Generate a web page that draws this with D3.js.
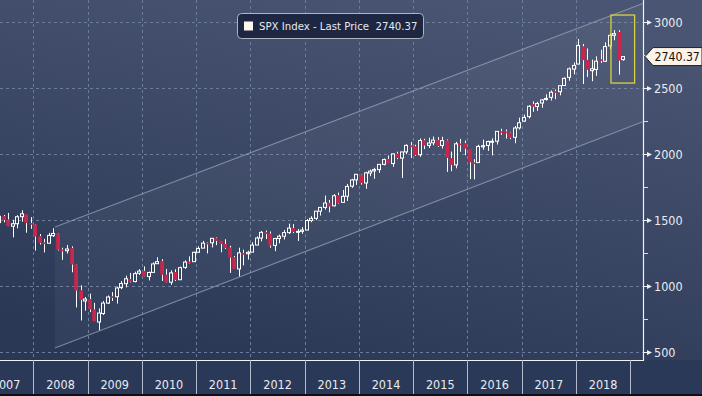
<!DOCTYPE html>
<html>
<head>
<meta charset="utf-8">
<script src="https://d3js.org/d3.v7.min.js"></script>
<style>
    body { margin: 0; background: #2b3958; }
    svg { display: block; }
    text { font-family: "DejaVu Sans Condensed", "Liberation Sans Narrow", "Arial Narrow", sans-serif; white-space: pre; }
</style>
</head>
<body>
<div id="chart"></div>
<script>
// monthly SPX bars, first bar is Apr 2007, last is Nov 2018 (partial)
var firstMonth = [2007, 3];

var opens = [
    1420.8, 1482.4, 1530.6, 1504.7, 1455.2, 1474.0, 1527.3, 1545.8, 1479.6,
    1468.0, 1378.6, 1330.5, 1326.4, 1383.4, 1399.6, 1276.7, 1269.4, 1287.8, 1164.2, 968.7, 888.6,
    903.0, 823.1, 729.6, 793.6, 872.7, 923.3, 920.8, 990.2, 1019.5, 1054.9, 1036.2, 1098.9,
    1116.6, 1073.9, 1105.4, 1171.2, 1188.6, 1087.3, 1031.1, 1107.5, 1049.7, 1143.5, 1185.7, 1186.6,
    1257.6, 1289.1, 1328.6, 1329.5, 1365.2, 1345.2, 1320.6, 1292.6, 1219.1, 1131.2, 1251.0, 1246.9,
    1258.9, 1312.5, 1365.9, 1408.5, 1397.9, 1309.9, 1362.3, 1379.3, 1406.5, 1440.9, 1412.2, 1416.2,
    1426.2, 1498.1, 1514.7, 1569.2, 1597.6, 1631.7, 1609.8, 1689.4, 1636.0, 1682.4, 1758.7, 1806.6,
    1845.9, 1782.7, 1857.7, 1874.0, 1884.4, 1923.9, 1962.3, 1929.8, 2004.1, 1971.4, 2018.2, 2065.8,
    2058.9, 1996.7, 2105.2, 2067.6, 2087.4, 2108.6, 2067.0, 2104.5, 1970.1, 1919.7, 2080.8, 2082.9,
    2038.2, 1936.9, 1937.1, 2056.6, 2067.2, 2093.9, 2099.3, 2173.1, 2171.3, 2164.3, 2128.7, 2200.2,
    2251.6, 2285.6, 2380.1, 2362.3, 2388.5, 2415.6, 2431.4, 2477.1, 2474.4, 2521.2, 2583.2, 2645.1,
    2683.7, 2816.5, 2715.2, 2633.5, 2643.0, 2718.7, 2705.0, 2821.2, 2901.6, 2926.3, 2717.6
];
var highs = [
    1498.0, 1535.6, 1540.6, 1555.9, 1503.9, 1538.7, 1576.1, 1545.8, 1523.6,
    1471.8, 1396.0, 1359.7, 1404.6, 1440.2, 1404.1, 1292.2, 1313.2, 1303.0, 1167.0, 1007.5, 918.9,
    943.9, 875.0, 833.0, 888.7, 930.2, 956.2, 996.7, 1039.5, 1080.2, 1101.4, 1111.1, 1130.4,
    1150.5, 1112.4, 1180.7, 1219.8, 1205.1, 1131.2, 1121.0, 1129.2, 1148.9, 1196.1, 1227.1, 1262.6,
    1302.7, 1344.1, 1332.3, 1364.6, 1370.6, 1345.2, 1356.5, 1307.4, 1229.3, 1292.7, 1277.6, 1269.4,
    1333.5, 1378.0, 1419.2, 1422.4, 1415.3, 1363.5, 1391.7, 1426.7, 1474.5, 1471.0, 1434.3, 1448.0,
    1509.9, 1530.9, 1570.3, 1597.6, 1687.2, 1654.2, 1698.8, 1709.7, 1729.9, 1775.2, 1813.6, 1849.4,
    1850.8, 1867.9, 1884.0, 1897.3, 1924.0, 1968.2, 1991.4, 2005.0, 2019.3, 2018.2, 2075.8, 2093.6,
    2072.4, 2119.6, 2117.5, 2125.9, 2134.7, 2129.9, 2132.8, 2112.7, 2020.9, 2094.3, 2116.5, 2104.3,
    2038.2, 1963.0, 2072.2, 2111.1, 2103.5, 2120.6, 2177.1, 2193.8, 2187.9, 2169.6, 2214.1, 2277.5,
    2301.0, 2371.5, 2401.0, 2398.2, 2418.7, 2453.8, 2484.0, 2490.9, 2519.4, 2583.0, 2657.7, 2695.0,
    2872.9, 2836.0, 2801.9, 2717.5, 2742.2, 2791.5, 2848.0, 2916.5, 2940.9, 2939.9, 2741.7
];
var lows = [
    1416.4, 1476.7, 1484.2, 1454.3, 1370.6, 1439.3, 1489.6, 1406.1, 1435.7,
    1270.1, 1316.8, 1257.0, 1324.4, 1373.7, 1272.0, 1200.4, 1248.6, 1106.4, 839.8, 741.0, 815.7,
    804.3, 734.5, 666.8, 783.3, 866.1, 888.9, 869.3, 978.5, 992.0, 1029.4, 1029.4, 1085.9,
    1071.6, 1044.5, 1105.4, 1170.7, 1040.8, 1028.3, 1010.9, 1039.7, 1049.7, 1131.9, 1173.0, 1186.6,
    1257.6, 1289.1, 1249.1, 1294.7, 1311.8, 1258.1, 1282.9, 1101.5, 1136.2, 1074.8, 1158.7, 1202.4,
    1258.9, 1312.5, 1340.0, 1357.4, 1292.0, 1266.7, 1325.4, 1354.7, 1396.6, 1403.3, 1343.4, 1398.1,
    1426.2, 1485.0, 1501.5, 1536.0, 1581.3, 1560.3, 1604.6, 1627.5, 1633.4, 1646.5, 1746.2, 1768.0,
    1770.5, 1737.9, 1834.4, 1814.4, 1859.8, 1916.0, 1930.7, 1904.8, 1964.0, 1820.7, 2001.0, 1972.6,
    1988.1, 1980.9, 2039.7, 2048.4, 2067.9, 2056.3, 2044.0, 1867.0, 1871.9, 1893.7, 2019.4, 1993.3,
    1812.3, 1810.1, 1937.1, 2033.8, 2025.9, 1991.7, 2074.0, 2147.6, 2119.1, 2114.7, 2083.8, 2187.4,
    2245.1, 2271.7, 2322.3, 2329.0, 2352.7, 2405.7, 2407.7, 2417.4, 2446.6, 2520.4, 2557.5, 2605.5,
    2682.4, 2532.7, 2585.9, 2553.8, 2594.6, 2692.0, 2699.0, 2796.3, 2864.1, 2603.5, 2708.9
];
var closes = [
    1482.4, 1530.6, 1503.4, 1455.3, 1474.0, 1526.8, 1549.4, 1481.1, 1468.4,
    1378.6, 1330.6, 1322.7, 1385.6, 1400.4, 1280.0, 1267.4, 1282.8, 1166.4, 968.8, 896.2, 903.3,
    825.9, 735.1, 797.9, 872.8, 919.1, 919.3, 987.5, 1020.6, 1057.1, 1036.2, 1095.6, 1115.1,
    1073.9, 1104.5, 1169.4, 1186.7, 1089.4, 1030.7, 1101.6, 1049.3, 1141.2, 1183.3, 1180.6, 1257.6,
    1286.1, 1327.2, 1325.8, 1363.6, 1345.2, 1320.6, 1292.3, 1218.9, 1131.4, 1253.3, 1247.0, 1257.6,
    1312.4, 1365.7, 1408.5, 1397.9, 1310.3, 1362.2, 1379.3, 1406.6, 1440.7, 1412.2, 1416.2, 1426.2,
    1498.1, 1514.7, 1569.2, 1597.6, 1630.7, 1606.3, 1685.7, 1633.0, 1681.6, 1756.5, 1805.8, 1848.4,
    1782.6, 1859.5, 1872.3, 1884.0, 1923.6, 1960.2, 1930.7, 2003.4, 1972.3, 2018.1, 2067.6, 2058.9,
    1995.0, 2104.5, 2067.9, 2085.5, 2107.4, 2063.1, 2103.8, 1972.2, 1920.0, 2079.4, 2080.4, 2043.9,
    1940.2, 1932.2, 2059.7, 2065.3, 2097.0, 2098.9, 2173.6, 2171.0, 2168.3, 2126.2, 2199.0, 2238.8,
    2278.9, 2363.6, 2362.7, 2384.2, 2411.8, 2423.4, 2470.3, 2471.7, 2519.4, 2575.3, 2647.6, 2673.6,
    2823.8, 2713.8, 2640.9, 2648.1, 2705.3, 2718.4, 2816.3, 2901.5, 2914.0, 2711.7, 2740.4
];

var yTicks = [500, 1000, 1500, 2000, 2500, 3000];
var yMinorTicks = [750, 1250, 1750, 2250, 2750];
var yearLabels = ["2007", "2008", "2009", "2010", "2011", "2012", "2013", "2014", "2015", "2016", "2017", "2018"];

// trend channel drawn on the chart
var channelDates = ["2008-05-26", "2019-03-26"];
var channelUpper = [1449, 3142];
var channelLower = [533, 2247];

// highlight box around the last bars
var boxDates = ["2018-08-24", "2019-01-30"];
var boxValues = [3055, 2540];

var legendText = "SPX Index - Last Price  2740.37";
var lastPrice = 2740.37;

var W = 702, H = 396;
var plotRight = 643, plotBottom = 360;

var parse = d3.timeParse("%Y-%m-%d");

var x = d3.scaleTime()
    .domain([new Date(2008, 0, 1), new Date(2019, 0, 1)])
    .range([33.3, 630.3]);
var y = d3.scaleLinear()
    .domain([500, 3000])
    .range([352.3, 22.3]);

var bars = [];
for (var i = 0; i < opens.length; i++) {
    bars.push({
        date: new Date(firstMonth[0], firstMonth[1] + i, 15),
        o: opens[i], h: highs[i], l: lows[i], c: closes[i]
    });
}

var svg = d3.select("#chart").append("svg")
    .attr("width", W)
    .attr("height", H);

var defs = svg.append("defs");
var grad = defs.append("linearGradient")
    .attr("id", "bg")
    .attr("x1", "0.7").attr("y1", "0")
    .attr("x2", "0.3").attr("y2", "1");
grad.append("stop").attr("offset", "0").attr("stop-color", "#4a5573");
grad.append("stop").attr("offset", "1").attr("stop-color", "#2a3856");

defs.append("clipPath").attr("id", "plotClip")
    .append("rect").attr("x", 0).attr("y", 0).attr("width", plotRight).attr("height", plotBottom);

// background
svg.append("rect").attr("width", W).attr("height", plotBottom).attr("fill", "url(#bg)");
svg.append("rect").attr("y", plotBottom).attr("width", W).attr("height", H - plotBottom).attr("fill", "#2b3958");
svg.append("rect").attr("y", H - 2).attr("width", W).attr("height", 2).attr("fill", "#0b0f18");

var plot = svg.append("g").attr("clip-path", "url(#plotClip)");

//grid
var yearStarts = d3.range(2008, 2019).map(function(yr) { return new Date(yr, 0, 1); });
plot.selectAll(".hgrid").data(yTicks).enter().append("line")
    .attr("x1", 0).attr("x2", plotRight)
    .attr("y1", function(d) { return Math.round(y(d)) + 0.5; })
    .attr("y2", function(d) { return Math.round(y(d)) + 0.5; })
    .attr("stroke", "#6a7c99").attr("stroke-dasharray", "3,3");
plot.selectAll(".vgrid").data(yearStarts).enter().append("line")
    .attr("x1", function(d) { return Math.round(x(d)) + 0.5; })
    .attr("x2", function(d) { return Math.round(x(d)) + 0.5; })
    .attr("y1", 0).attr("y2", plotBottom)
    .attr("stroke", "#6a7c99").attr("stroke-dasharray", "3,3");

//channel
var cd = channelDates.map(parse);
var channelPts = [
    [x(cd[0]), y(channelUpper[0])],
    [x(cd[1]), y(channelUpper[1])],
    [x(cd[1]), y(channelLower[1])],
    [x(cd[0]), y(channelLower[0])]
];
plot.append("polygon")
    .attr("points", channelPts.map(function(p) { return p.join(","); }).join(" "))
    .attr("fill", "#ffffff").attr("fill-opacity", 0.045);
plot.append("line")
    .attr("x1", channelPts[0][0]).attr("y1", channelPts[0][1])
    .attr("x2", channelPts[1][0]).attr("y2", channelPts[1][1])
    .attr("stroke", "#a3abbd").attr("stroke-opacity", 0.65).attr("stroke-width", 1.2);
plot.append("line")
    .attr("x1", channelPts[3][0]).attr("y1", channelPts[3][1])
    .attr("x2", channelPts[2][0]).attr("y2", channelPts[2][1])
    .attr("stroke", "#a3abbd").attr("stroke-opacity", 0.65).attr("stroke-width", 1.2);

//candles
var candle = plot.selectAll(".candle").data(bars).enter().append("g");
candle.each(function(d) {
    var g = d3.select(this);
    var cx = Math.round(x(d.date));
    var top = y(Math.max(d.o, d.c));
    var bot = y(Math.min(d.o, d.c));
    var up = d.c >= d.o;
    // wick above and below the body
    g.append("line").attr("x1", cx + 0.5).attr("x2", cx + 0.5)
        .attr("y1", y(d.h)).attr("y2", top).attr("stroke", "#ffffff");
    g.append("line").attr("x1", cx + 0.5).attr("x2", cx + 0.5)
        .attr("y1", bot).attr("y2", y(d.l)).attr("stroke", "#ffffff");
    if (up) {
        g.append("rect")
            .attr("x", cx - 1.5).attr("y", top)
            .attr("width", 3).attr("height", Math.max(bot - top, 1))
            .attr("fill", "none").attr("stroke", "#ffffff").attr("stroke-width", 1);
    } else {
        g.append("rect")
            .attr("x", cx - 1.8).attr("y", top)
            .attr("width", 3.8).attr("height", Math.max(bot - top, 1.5))
            .attr("fill", "#c8264b");
    }
});

//highlight box
var bd = boxDates.map(parse);
svg.append("rect")
    .attr("x", x(bd[0])).attr("y", y(boxValues[0]))
    .attr("width", x(bd[1]) - x(bd[0]))
    .attr("height", y(boxValues[1]) - y(boxValues[0]))
    .attr("fill", "none").attr("stroke", "#d9d23c").attr("stroke-width", 1.3);

// plot border
svg.append("line").attr("x1", plotRight + 0.5).attr("x2", plotRight + 0.5)
    .attr("y1", 0).attr("y2", plotBottom + 1).attr("stroke", "#f0f2f6").attr("stroke-width", 1.2);
svg.append("line").attr("x1", 0).attr("x2", plotRight + 1)
    .attr("y1", plotBottom + 0.5).attr("y2", plotBottom + 0.5).attr("stroke", "#f0f2f6").attr("stroke-width", 1.2);

//right axis
var axisG = svg.append("g");
axisG.selectAll(".tick").data(yTicks).enter().append("path")
    .attr("d", function(d) {
        var ty = Math.round(y(d)) + 0.5;
        return "M" + plotRight + "," + (ty - 0.6) + "L647," + (ty - 0.6) + "L647," + (ty - 2.5) +
            "L652," + ty + "L647," + (ty + 2.5) + "L647," + (ty + 0.6) + "L" + plotRight + "," + (ty + 0.6) + "Z";
    })
    .attr("fill", "#eef0f4");
axisG.selectAll(".minor").data(yMinorTicks).enter().append("line")
    .attr("x1", plotRight).attr("x2", plotRight + 5)
    .attr("y1", function(d) { return Math.round(y(d)) + 0.5; })
    .attr("y2", function(d) { return Math.round(y(d)) + 0.5; })
    .attr("stroke", "#d8dce4");
axisG.selectAll(".label").data(yTicks).enter().append("text")
    .attr("x", 654)
    .attr("y", function(d) { return y(d) + 4.5; })
    .attr("fill", "#e9ecf2")
    .attr("font-size", "12.5px")
    .text(function(d) { return d; });

// last price tag
var py = y(lastPrice);
svg.append("path")
    .attr("d", "M645," + py + "L653," + (py - 9) + "L702," + (py - 9) + "L702," + (py + 9) + "L653," + (py + 9) + "Z")
    .attr("fill", "#fdf2e6").attr("stroke", "#1d2330").attr("stroke-width", 1);
svg.append("text")
    .attr("x", 654.5).attr("y", py + 4.5)
    .attr("fill", "#111111")
    .attr("font-size", "12.2px")
    .text(lastPrice.toFixed(2));

//bottom axis
var sepYears = d3.range(2008, 2020).map(function(yr) { return new Date(yr, 0, 1); });
svg.selectAll(".sep").data(sepYears).enter().append("line")
    .attr("x1", function(d) { return Math.round(x(d)) + 0.5; })
    .attr("x2", function(d) { return Math.round(x(d)) + 0.5; })
    .attr("y1", plotBottom).attr("y2", H - 2)
    .attr("stroke", "#b4bccb");
svg.selectAll(".year").data(yearLabels).enter().append("text")
    .attr("x", function(d) { return x(new Date(+d, 6, 2)); })
    .attr("y", 389)
    .attr("text-anchor", "middle")
    .attr("fill", "#e9ecf2")
    .attr("font-size", "12.5px")
    .text(function(d) { return d; });

//legend
var legend = svg.append("g");
legend.append("rect")
    .attr("x", 237.5).attr("y", 13.5).attr("width", 186).attr("height", 25).attr("rx", 4)
    .attr("fill", "#1d2741").attr("stroke", "#aeb4c2");
legend.append("rect")
    .attr("x", 244).attr("y", 21.5).attr("width", 9).attr("height", 9)
    .attr("fill", "#fff6f2");
legend.append("text")
    .attr("x", 259).attr("y", 30)
    .attr("fill", "#e6e9ef")
    .attr("font-size", "11.3px")
    .text(legendText);
</script>
</body>
</html>
